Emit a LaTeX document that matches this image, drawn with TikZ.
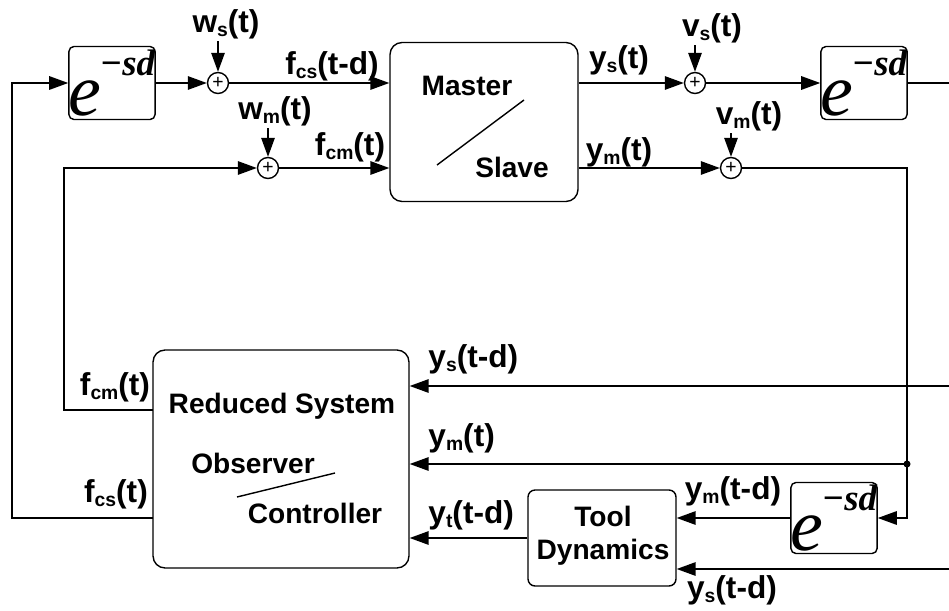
\documentclass[tikz,border=0pt]{standalone}
\usepackage{fontspec}
\setmainfont{Liberation Sans}
\newfontfamily\tnr{Liberation Serif}
\usetikzlibrary{arrows.meta}

\newcommand{\sig}[2]{#1\raisebox{-0.09cm}{\fontsize{11}{11}\selectfont #2}}
\newcommand{\esd}{{\tnr\fontsize{42}{42}\selectfont\itshape e}\hspace{-1pt}\raisebox{0.8cm}{\tnr\fontsize{21}{21}\selectfont\bfseries\itshape −sd}}

\tikzset{
  blk/.style={draw, rounded corners=0.24cm},
  dbox/.style={draw, rounded corners=0.1cm, inner sep=0pt, minimum width=1.68cm, minimum height=1.46cm},
  sum/.style={draw, circle, minimum size=0.42cm, inner sep=0pt, font=\fontsize{11}{11}\selectfont},
  lbl/.style={font=\fontsize{18}{18}\selectfont\bfseries, inner sep=1pt},
  txt/.style={font=\fontsize{16}{19}\selectfont\bfseries, align=center},
}

\begin{document}
\begin{tikzpicture}[x=0.02cm, y=-0.02cm, line width=0.8pt, >={Triangle[length=0.38cm,width=0.27cm]}]
            \useasboundingbox (0,0) rectangle (949,611);

            % blocks
            \node[blk, minimum width=3.76cm, minimum height=3.18cm] (ms) at (484,122) {};
            \node[blk, minimum width=5.12cm, minimum height=4.36cm] (red) at (281,459) {};
            \node[blk, minimum width=2.96cm, minimum height=1.92cm, rounded corners=0.14cm] (tool) at (602,538) {};
            \node[dbox] (esdL) at (112,83) {\esd};
            \node[dbox, minimum width=1.66cm] (esdR) at (864,83) {\esd};
            \node[dbox, minimum height=1.42cm] (esdB) at (834,518) {\esd};

            % texts in the blocks
            \node[txt] (mst) at (467,86) {Master};
            \node[txt] (slv) at (512,167) {Slave};
            \draw (437,165) -- (524,100);
            \node[txt] (rs) at (282,406) {Reduced System};
            \node[txt] (obs) at (253,463) {Observer};
            \node[txt] (ctr) at (315,513) {Controller};
            \draw (237,497) -- (335,473);
            \node[txt, align=center] (tdy) at (603,536) {Tool\\Dynamics};

            % adders
            \node[sum] (ws) at (218,83) {+};
            \node[sum] (wm) at (268,168) {+};
            \node[sum] (vs) at (695,83) {+};
            \node[sum] (vm) at (731,168) {+};

            % corners and open ends
            \coordinate (c1) at (12,83);
            \coordinate (c2) at (64,168);
            \coordinate (o1) at (153,518);
            \coordinate (o2) at (153,410);
            \coordinate (c3) at (907,518);
            \coordinate (jn) at (907,464);
            \coordinate (r1) at (949,83);
            \coordinate (r2) at (949,386);
            \coordinate (r3) at (949,569);

            % labels
            \node[lbl] (lws) at (226,24) {\sig{w}{s}(t)};
            \node[lbl] (lwm) at (275,111) {\sig{w}{m}(t)};
            \node[lbl] (lvs) at (712,28) {\sig{v}{s}(t)};
            \node[lbl] (lvm) at (749,116) {\sig{v}{m}(t)};
            \node[lbl] (lfcs) at (332,66) {\sig{f}{cs}(t-d)};
            \node[lbl] (lfcm) at (350,147) {\sig{f}{cm}(t)};
            \node[lbl] (lys) at (619,60) {\sig{y}{s}(t)};
            \node[lbl] (lym) at (619,152) {\sig{y}{m}(t)};
            \node[lbl] (lfcm2) at (115,387) {\sig{f}{cm}(t)};
            \node[lbl] (lfcs2) at (116,494) {\sig{f}{cs}(t)};
            \node[lbl, anchor=west] (lysd) at (426,359) {\sig{y}{s}(t-d)};
            \node[lbl, anchor=west] (lym2) at (426,438) {\sig{y}{m}(t)};
            \node[lbl, anchor=west] (lyt) at (426,515) {\sig{y}{t}(t-d)};
            \node[lbl] (lymd) at (733,491) {\sig{y}{m}(t-d)};
            \node[lbl] (lysd2) at (732,590) {\sig{y}{s}(t-d)};

            % connectors
            \draw[->] (o1) -| (c1) -- (esdL.west);
            \draw[->] (esdL.east) -- (ws.west);
            \draw[->] (ws.east) -- (ms.west |- ws);
            \draw[->] (o2) -| (c2) -- (wm.west);
            \draw[->] (wm.east) -- (ms.west |- wm);
            \draw[->] (ms.east |- vs) -- (vs.west);
            \draw[->] (vs.east) -- (esdR.west);
            \draw (esdR.east) -- (r1);
            \draw[->] (ms.east |- vm) -- (vm.west);
            \draw[->] (vm.east) -| (c3) -- (esdB.east);
            \draw[->] (esdB.west) -- (tool.east |- esdB);
            \draw[->] (r2) -- (red.east |- r2);
            \draw[->] (jn) -- (red.east |- jn);
            \draw[->] (tool.west) -- (red.east |- tool.west);
            \draw[->] (r3) -- (tool.east |- r3);
            \fill (jn) circle (2pt);

            \draw[->] (lws.south -| ws) -- (ws.north);
            \draw[->] (lwm.south -| wm) -- (wm.north);
            \draw[->] (lvs.south -| vs) -- (vs.north);
            \draw[->] (lvm.south -| vm) -- (vm.north);
        \end{tikzpicture}
\end{document}
